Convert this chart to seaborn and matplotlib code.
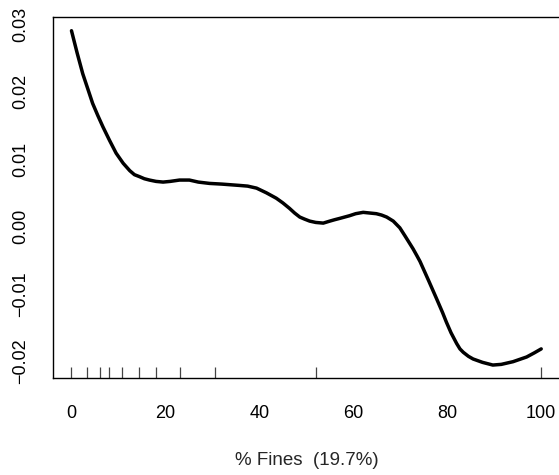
import matplotlib
matplotlib.use("Agg")
import matplotlib.pyplot as plt
import seaborn as sns
import pandas as pd

# Partial effect of % fines (smooth term), read at points along the curve
fines = [0, 1.2, 2.4, 3.5, 4.5, 5.6, 6.7, 8.1, 9.5, 11.0, 12.4, 13.4,
         14.5, 15.5, 16.6, 18.0, 19.5, 21.0, 23.0, 24.0, 25.1, 27.0, 29.4,
         32.0, 35.8, 37.5, 39.4, 41.5, 43.6, 45.0, 46.4, 47.5, 48.6, 49.6,
         50.7, 52.0, 53.6, 55.0, 56.0, 57.1, 59.2, 60.5, 62.1, 63.5, 64.9,
         66.0, 67.1, 68.5, 69.9, 71.0, 72.7, 73.5, 74.2, 76.0, 77.7, 79.0,
         79.8, 80.8, 82.0, 82.7, 83.4, 84.5, 85.5, 87.5, 89.7, 91.5, 94.0,
         96.9, 98.5, 100]
effect = [0.0291, 0.0258, 0.0227, 0.0204, 0.0183, 0.0165, 0.0148, 0.0128,
          0.0109, 0.0094, 0.0083, 0.0077, 0.0074, 0.0071, 0.0069, 0.0067,
          0.0066, 0.0067, 0.0069, 0.0069, 0.0069, 0.0066, 0.0064, 0.0063,
          0.0061, 0.0060, 0.0057, 0.0050, 0.0042, 0.0035, 0.0027, 0.0020,
          0.0014, 0.0011, 0.0008, 0.0006, 0.0005, 0.0008, 0.0010, 0.0012,
          0.0016, 0.0019, 0.0021, 0.0020, 0.0019, 0.0017, 0.0014, 0.0008,
          -0.0002, -0.0014, -0.0033, -0.0043, -0.0052, -0.0080, -0.0107,
          -0.0128, -0.0142, -0.0158, -0.0174, -0.0182, -0.0187, -0.0193,
          -0.0197, -0.0202, -0.0206, -0.0205, -0.0201, -0.0194, -0.0188,
          -0.0182]

# Observed values shown as a rug along the x axis
rug_fines = [0, 3.3, 6.0, 8.0, 10.7, 14.3, 17.9, 23.0, 30.6, 52.1, 100]

x_ticks = [0, 20, 40, 60, 80, 100]
y_ticks = [-0.02, -0.01, 0.00, 0.01, 0.02, 0.03]
y_tick_labels = ["\u22120.02", "\u22120.01", "0.00", "0.01", "0.02", "0.03"]
x_label = "% Fines  (19.7%)"

sns.set_style("white")
plt.rcParams["font.family"] = ["Liberation Sans", "DejaVu Sans"]

fig = plt.figure(figsize=(5.59, 4.75), dpi=100)
W, H = 559, 475
left, right, top, bottom = 52.7, 560.0, 17.0, 378.3
ax = fig.add_axes([left / W, 1 - bottom / H, (right - left) / W, (bottom - top) / H])

curve = pd.DataFrame({"fines": fines, "effect": effect})
sns.lineplot(data=curve, x="fines", y="effect", ax=ax, color="black",
             linewidth=2.5, sort=False, estimator=None)
for ln in ax.lines:
    ln.set_solid_joinstyle("round")
    ln.set_solid_capstyle("round")
sns.rugplot(x=rug_fines, ax=ax, height=0.031, color="#444444", linewidth=0.9,
            expand_margins=False)

ax.set_xlim(-4, 104)
ax.set_ylim(-0.02257, 0.03114)
ax.set_xticks(x_ticks)
ax.set_xticklabels([str(t) for t in x_ticks])
ax.set_yticks(y_ticks)
ax.set_yticklabels(y_tick_labels, rotation=90, va="center")
ax.tick_params(axis="both", direction="out", length=8, width=1.0,
               labelsize=13, colors="black")
ax.tick_params(axis="x", pad=11)
ax.tick_params(axis="y", pad=9)
ax.set_xlabel(x_label, fontsize=13.5, labelpad=22)
ax.set_ylabel("")
for s in ax.spines.values():
    s.set_visible(True)
    s.set_color("black")
    s.set_linewidth(1.0)

fig.savefig("out.png", dpi=100)
